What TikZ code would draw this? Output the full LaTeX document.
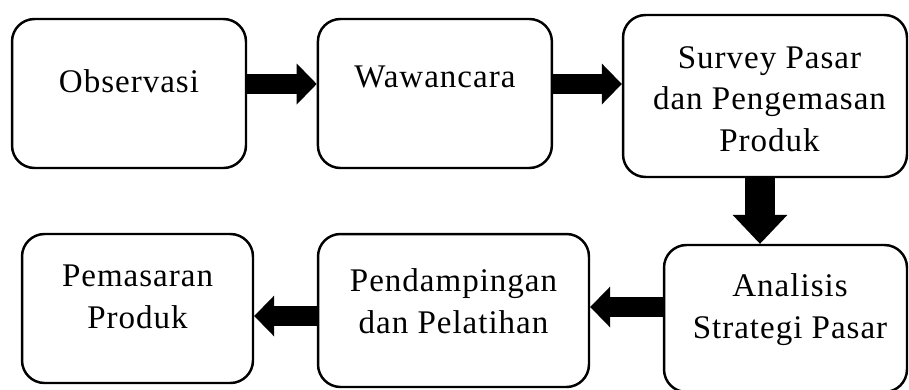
\documentclass[tikz,border=0pt]{standalone}
\usepackage{fontspec}
\setmainfont[LetterSpace=3]{Liberation Serif}
\usetikzlibrary{arrows.meta, positioning}

\begin{document}
\begin{tikzpicture}[x=0.02cm, y=-0.02cm,
    % stage box - rounded, thick outline
    stagebox/.style={rectangle, draw, line width=1.4pt, rounded corners=0.45cm, inner sep=0pt},
    % stage text - last baseline placed below the box top
    stagetxt/.style={font=\fontsize{18.8}{23.8}\selectfont, align=center, anchor=base},
    % fat flow arrows
    flow/.style={line width=0.4cm, -{Triangle[length=0.4cm, width=0.82cm, line width=0pt]}},
    bigflow/.style={line width=0.6cm, -{Triangle[length=0.58cm, width=1.1cm, line width=0pt]}}
]
    \clip (0,0) rectangle (909,389);

    % top row
    \node[stagebox, minimum width=4.68cm, minimum height=2.98cm] (obs) at (129,93.5) {};
    \node[stagetxt] (obstxt) at ([yshift=-1.5cm]obs.north) {Observasi};

    \node[stagebox, minimum width=4.68cm, minimum height=2.98cm, right=1.39cm of obs] (waw) {};
    \node[stagetxt] (wawtxt) at ([yshift=-1.4cm]waw.north) {Wawancara};

    \node[stagebox, minimum width=5.68cm, minimum height=3.24cm] (survey) at (765,96) {};
    \node[stagetxt] (surveytxt) at ([xshift=0.09cm, yshift=-2.76cm]survey.north) {Survey Pasar\\dan Pengemasan\\Produk};

    % bottom row
    \node[stagebox, minimum width=4.86cm, minimum height=2.94cm] (ana) at (785.5,318.5) {};
    \node[stagetxt] (anatxt) at ([xshift=0.09cm, yshift=-1.9cm]ana.north) {Analisis\\Strategi Pasar};

    \node[stagebox, minimum width=5.42cm, minimum height=3.06cm] (pend) at (453.5,310.5) {};
    \node[stagetxt] (pendtxt) at ([yshift=-2.02cm]pend.north) {Pendampingan\\dan Pelatihan};

    \node[stagebox, minimum width=4.62cm, minimum height=2.98cm] (pem) at (137.5,308.5) {};
    \node[stagetxt] (pemtxt) at ([yshift=-1.92cm]pem.north) {Pemasaran\\Produk};

    % arrows between stages
    \draw[flow] ([yshift=0.19cm]obs.east) -- ([yshift=0.19cm]waw.west);
    \draw[flow] ([yshift=0.19cm]waw.east) -- ([yshift=0.19cm]waw.east -| survey.west);
    \draw[bigflow] ([xshift=-0.1cm]survey.south) -- ([xshift=-0.1cm]survey.south |- ana.north);
    \draw[flow] ([yshift=0.23cm]ana.west) -- ([yshift=0.23cm]ana.west -| pend.east);
    \draw[flow] ([yshift=-0.11cm]pend.west) -- ([yshift=-0.11cm]pend.west -| pem.east);
\end{tikzpicture}
\end{document}
